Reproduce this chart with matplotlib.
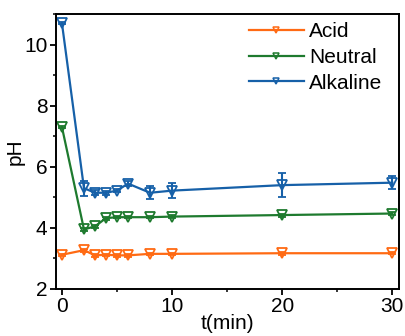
import matplotlib
matplotlib.use("Agg")
import matplotlib.pyplot as plt
from matplotlib.ticker import MultipleLocator
from matplotlib.lines import Line2D

plt.rcParams['font.family'] = ['Liberation Sans', 'DejaVu Sans']

t = [0, 2, 3, 4, 5, 6, 8, 10, 20, 30]
acid = [3.12, 3.27, 3.10, 3.12, 3.10, 3.10, 3.15, 3.15, 3.17, 3.17]
acid_err = [0.04, 0.05, 0.04, 0.04, 0.04, 0.04, 0.04, 0.04, 0.05, 0.04]
neutral = [7.30, 3.95, 4.05, 4.32, 4.35, 4.35, 4.35, 4.37, 4.42, 4.47]
neutral_err = [0.04, 0.06, 0.05, 0.05, 0.04, 0.04, 0.04, 0.05, 0.05, 0.05]
alkaline = [10.70, 5.30, 5.15, 5.15, 5.22, 5.45, 5.15, 5.22, 5.40, 5.48]
alkaline_err = [0.04, 0.25, 0.08, 0.07, 0.05, 0.07, 0.22, 0.25, 0.40, 0.22]
labels = ['Acid', 'Neutral', 'Alkaline']
colors = ['#FF6A13', '#1E7A2E', '#1660A8']

fig = plt.figure(figsize=(4.05, 3.36), dpi=100)
ax = fig.add_axes([0.138, 0.14, 0.847, 0.818])

handles = []
for y, e, lab, c in zip([acid, neutral, alkaline], [acid_err, neutral_err, alkaline_err], labels, colors):
    ax.errorbar(t, y, yerr=e, color=c, lw=1.6, marker='v', markersize=6.5,
                markerfacecolor='none', markeredgecolor=c, markeredgewidth=1.3,
                capsize=3, elinewidth=1.5, capthick=1.5)
    handles.append(Line2D([], [], color=c, lw=1.6, marker='v', markersize=5,
                          markerfacecolor='none', markeredgecolor=c, markeredgewidth=1.1))

ax.set_xlim(-0.55, 30.6)
ax.set_ylim(2, 11)
ax.xaxis.set_major_locator(MultipleLocator(10))
ax.xaxis.set_minor_locator(MultipleLocator(5))
ax.yaxis.set_major_locator(MultipleLocator(2))
ax.yaxis.set_minor_locator(MultipleLocator(1))
ax.tick_params(which='major', direction='out', length=4, width=1.3, labelsize=15, pad=2)
ax.tick_params(which='minor', direction='out', length=2.5, width=1.1)
for s in ax.spines.values():
    s.set_linewidth(1.4)
ax.set_xlabel('t(min)', fontsize=15, labelpad=-2)
ax.set_ylabel('pH', fontsize=15)
ax.yaxis.set_label_coords(-0.09, 0.5)

ax.legend(handles, labels, loc='upper right', frameon=False, fontsize=15,
          handlelength=2.6, handletextpad=0.25, labelspacing=0.32,
          borderaxespad=0.0, bbox_to_anchor=(0.975, 1.0))

fig.savefig('out.png', dpi=100)
